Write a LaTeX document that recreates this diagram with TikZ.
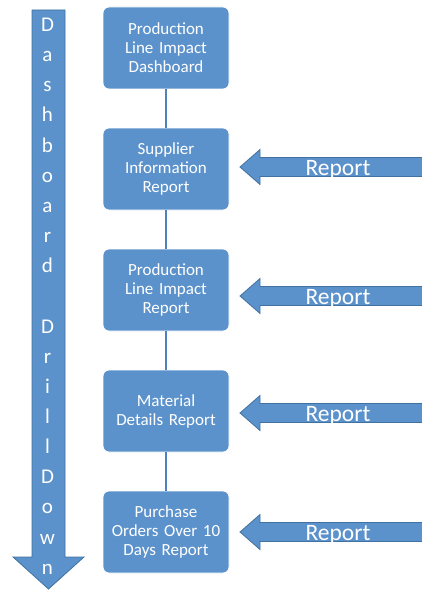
\documentclass[tikz,border=0pt]{standalone}
\usepackage{fontspec}
\setmainfont{Carlito}
\definecolor{bfill}{RGB}{92,146,203}
\definecolor{bline}{RGB}{65,113,160}
\definecolor{cline}{RGB}{79,129,189}
\begin{document}
\begin{tikzpicture}[x=1pt,y=-1pt,
  stepbox/.style={draw=white,line width=0.8pt,fill=bfill,rounded corners=6pt,
    minimum width=126pt,minimum height=82pt,text width=122pt,align=center,
    text=white,font=\fontsize{17}{19}\selectfont,inner sep=0pt},
  arrowshape/.style={fill=bfill,draw=bline,line width=0.8pt,line join=miter},
  arrowlabel/.style={text=white,font=\fontsize{23.5}{26}\selectfont,anchor=base,inner sep=0pt},
  letter/.style={text=white,font=\fontsize{21}{24}\selectfont,anchor=base,inner sep=0pt},
  conn/.style={draw=cline,line width=1.6pt}]
\useasboundingbox (0,0) rectangle (421,591);
% left drill-down arrow
\draw[arrowshape] (32,10) -- (65,10) -- (65,557) -- (84,557) -- (48.5,589) -- (13,557) -- (32,557) -- cycle;
\foreach \ch [count=\i from 0] in {D,a,s,h,b,o,a,r,d,{},D,r,i,l,l,D,o,w,n}{
  \node[letter] (l\i) at (47.5,{31.5+30.15*\i}) {\ch};
}
% boxes
\node[stepbox] (b1) at (166,48) {Production\\Line Impact\\Dashboard};
\node[stepbox] (b2) at (166,169) {Supplier\\Information\\Report};
\node[stepbox] (b3) at (166,290) {Production\\Line Impact\\Report};
\node[stepbox] (b4) at (166,411) {Material\\Details Report};
\node[stepbox] (b5) at (166,532) {Purchase\\Orders Over 10\\Days Report};
\draw[conn] (b1.south) -- (b2.north);
\draw[conn] (b2.south) -- (b3.north);
\draw[conn] (b3.south) -- (b4.north);
\draw[conn] (b4.south) -- (b5.north);
% report arrows
\foreach \y/\n in {167/r1,296/r2,413/r3,532/r4}{
  \draw[arrowshape] (240,\y) -- (260,\y-17.5) -- (260,\y-9.5) -- (425,\y-9.5)
    -- (425,\y+9.5) -- (260,\y+9.5) -- (260,\y+17.5) -- cycle;
  \node[arrowlabel] (\n) at (338,\y+8) {Report};
}
\end{tikzpicture}
\end{document}
